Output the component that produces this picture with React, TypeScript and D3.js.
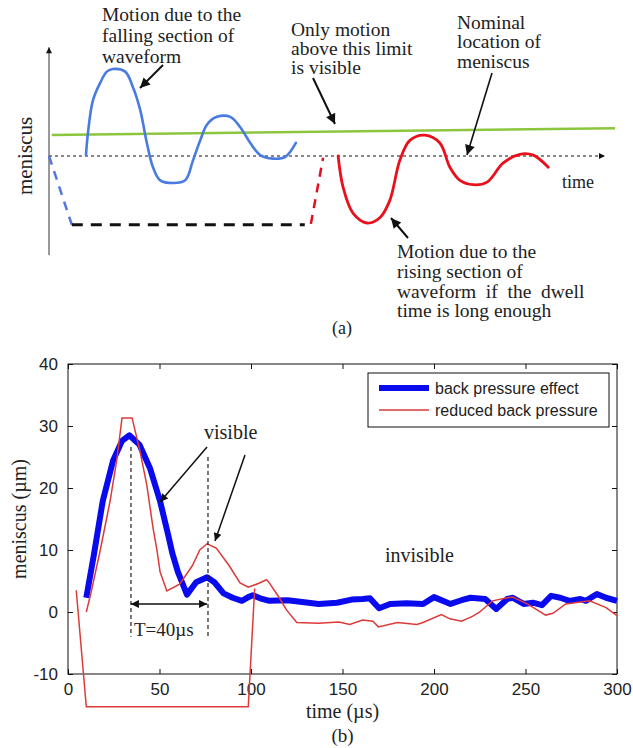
import { useEffect, useRef } from 'react';
import * as d3 from 'd3';

// ---- panel (b): measured meniscus position, time in µs, meniscus in µm ----
const backPressureT = [10, 14, 19, 24.6, 29.5, 33.5, 39, 44.8, 50.3, 54.6, 57, 60, 65, 70, 76, 80, 85, 90, 95, 98.5, 101, 105, 110, 120, 128, 137, 147, 155, 161, 165, 170, 176, 185, 194, 200, 209, 215, 220, 228, 234, 240, 243, 249, 254, 259, 264, 269, 274, 280, 283, 289, 294, 300];
const backPressureV = [2.3, 9, 17.9, 24.4, 27.6, 28.5, 27, 23.2, 17.9, 12.6, 9.5, 6.5, 2.8, 4.8, 5.6, 4.8, 3, 2.3, 1.8, 2.4, 2.7, 2.2, 1.8, 1.9, 1.6, 1.3, 1.5, 2.0, 2.1, 2.2, 0.6, 1.3, 1.4, 1.3, 2.4, 1.3, 1.9, 2.3, 2.1, 0.5, 2.1, 2.3, 1.3, 1.5, 1.1, 2.6, 2.3, 1.8, 2.1, 1.8, 2.9, 2.3, 1.8];

const reducedT = [10, 12.5, 17.5, 23, 26.8, 29.5, 35, 39.3, 43, 46.5, 48.6, 50.3, 54, 61, 68, 72, 76, 81, 88, 94, 98.5, 104, 108.5, 110, 115, 119.5, 125, 137, 148, 154, 161, 166.6, 169.6, 180, 190.6, 194, 204, 208.7, 215, 221, 225, 232, 240, 243, 251, 261, 265, 272, 285, 294, 300];
const reducedV = [0, 3, 9.8, 17.9, 24.8, 31.3, 31.3, 26, 20.6, 13.5, 10, 6.5, 3.4, 4.5, 7.5, 10, 11, 10.3, 7.5, 4.7, 4, 4.6, 5.2, 4.7, 2.5, 0.3, -1.7, -1.8, -1.6, -2, -1.3, -1.5, -2.4, -1.7, -2, -1.7, -0.4, -1.1, -1.5, -0.7, 0, 1.8, 2.3, 2.4, 1.3, -0.5, -0.2, 1.3, 1.8, 0.7, -0.6];

// the drive step drawn with the reduced back pressure trace (runs below the axes)
const stepT = [4.5, 10, 98.5, 102];
const stepV = [3.5, -15.3, -15.3, 3.8];

const xTicks = [0, 50, 100, 150, 200, 250, 300];
const yTicks = [-10, 0, 10, 20, 30, 40];
const legendLabels = ['back pressure effect', 'reduced back pressure'];

// period markers (µs)
const periodStart = 34.4;
const periodEnd = 76;

// ---- panel (a): schematic, arbitrary units ----
const fallingU = [6.65, 7.0, 7.9, 9.2, 10.4, 11.5, 13.7, 15.1, 16.4, 17.6, 18.7, 20.0, 22.3, 24.5, 25.9, 27.2, 28.4, 30.2, 32.6, 34.4, 36.2, 38.0, 40.3, 42.5, 44.4];
const fallingV = [0.01, 0.26, 0.64, 0.84, 0.97, 1.0, 0.97, 0.79, 0.53, 0.15, -0.13, -0.28, -0.31, -0.28, -0.05, 0.18, 0.36, 0.45, 0.45, 0.33, 0.15, 0.01, -0.03, -0.01, 0.15];

const risingU = [52.0, 52.9, 54.7, 57.2, 59.5, 61.3, 63.1, 64.9, 67.6, 70.3, 72.1, 73.9, 76.3, 78.8, 81.7, 84.7, 87.1, 89.8];
const risingV = [0, -0.36, -0.66, -0.77, -0.71, -0.51, -0.05, 0.18, 0.24, 0.15, -0.13, -0.28, -0.33, -0.3, -0.08, 0.02, 0.01, -0.13];

const limitU = [0.5, 101.8];
const limitV = [0.24, 0.32];
const fallDashU = [0, 4.1];
const fallDashV = [0, -0.79];
const dwellU = [4.1, 46];
const dwellV = [-0.79, -0.79];
const riseDashU = [47.1, 49.3];
const riseDashV = [-0.78, -0.02];

const SERIF = '"Liberation Serif", "Times New Roman", serif';
const SANS = '"Liberation Sans", Arial, sans-serif';
const TEXT = '#222';

const zip = (a: number[], b: number[]) => a.map((d, i) => [d, b[i]] as [number, number]);

const App = () => {
  const ref = useRef<SVGSVGElement>(null);

  useEffect(() => {
    const svg = d3.select(ref.current);
    svg.selectAll('*').remove();

    const defs = svg.append('defs');
    const marker = (id: string, w: number, h: number) => {
      defs.append('marker')
        .attr('id', id)
        .attr('markerUnits', 'userSpaceOnUse')
        .attr('viewBox', '0 0 10 10')
        .attr('refX', 10).attr('refY', 5)
        .attr('markerWidth', w).attr('markerHeight', h)
        .attr('orient', 'auto-start-reverse')
        .append('path').attr('d', 'M0,0 L10,5 L0,10 z').attr('fill', '#111');
    };
    marker('headBig', 13, 10);
    marker('headSmall', 11, 8);
    marker('headTiny', 8, 6);

    // ================= panel (a) =================
    const xA = d3.scaleLinear().domain([0, 100]).range([49, 605]);
    const yA = d3.scaleLinear().domain([0, 1]).range([156, 69]);
    const smoothA = d3.line<[number, number]>()
      .x(d => xA(d[0])).y(d => yA(d[1]))
      .curve(d3.curveCatmullRom.alpha(0.5));
    const straightA = d3.line<[number, number]>().x(d => xA(d[0])).y(d => yA(d[1]));

    const a = svg.append('g');

    // axes
    a.append('line')
      .attr('x1', xA(0)).attr('x2', xA(0))
      .attr('y1', yA(-1.14)).attr('y2', yA(1.25))
      .attr('stroke', '#333').attr('stroke-width', 1)
      .attr('marker-end', 'url(#headTiny)');
    a.append('line')
      .attr('x1', xA(0)).attr('x2', xA(100))
      .attr('y1', yA(0)).attr('y2', yA(0))
      .attr('stroke', '#111').attr('stroke-width', 1)
      .attr('stroke-dasharray', '3,3')
      .attr('marker-end', 'url(#headTiny)');

    // visibility limit
    a.append('path').attr('d', straightA(zip(limitU, limitV)))
      .attr('fill', 'none').attr('stroke', '#8cc63f').attr('stroke-width', 2.5);

    // dashed drive waveform
    a.append('path').attr('d', straightA(zip(fallDashU, fallDashV)))
      .attr('fill', 'none').attr('stroke', '#5577dd').attr('stroke-width', 2.5)
      .attr('stroke-dasharray', '9,7');
    a.append('path').attr('d', straightA(zip(dwellU, dwellV)))
      .attr('fill', 'none').attr('stroke', '#111').attr('stroke-width', 3)
      .attr('stroke-dasharray', '11,8');
    a.append('path').attr('d', straightA(zip(riseDashU, riseDashV)))
      .attr('fill', 'none').attr('stroke', '#e01020').attr('stroke-width', 2.5)
      .attr('stroke-dasharray', '9,7');

    // meniscus motion curves
    a.append('path').attr('d', smoothA(zip(fallingU, fallingV)))
      .attr('fill', 'none').attr('stroke', '#4a7be0').attr('stroke-width', 2.6)
      .attr('stroke-linecap', 'round');
    a.append('path').attr('d', smoothA(zip(risingU, risingV)))
      .attr('fill', 'none').attr('stroke', '#e8101c').attr('stroke-width', 2.8)
      .attr('stroke-linecap', 'round');

    const multiline = (g: any, x: number, ys: number[], lines: string[], size: number) => {
      lines.forEach((t, i) => {
        g.append('text').attr('x', x).attr('y', ys[i])
          .attr('font-family', SERIF).attr('font-size', size).attr('fill', TEXT)
          .attr('xml:space', 'preserve')
          .text(t);
      });
    };
    multiline(a, 102, [21, 42, 63], ['Motion due to the', 'falling section of', 'waveform'], 19.5);
    multiline(a, 291, [36, 55, 74], ['Only motion', 'above this limit', 'is visible'], 19.5);
    multiline(a, 457, [29, 48, 68], ['Nominal', 'location of', 'meniscus'], 19.5);
    multiline(a, 397, [258, 278, 298, 317], ['Motion due to the', 'rising section of', 'waveform  if  the  dwell', 'time is long enough'], 19.5);

    a.append('text').attr('x', 562).attr('y', 188)
      .attr('font-family', SERIF).attr('font-size', 18).attr('fill', TEXT).text('time');
    a.append('text')
      .attr('transform', `translate(32,${yA(0)}) rotate(-90)`)
      .attr('text-anchor', 'middle')
      .attr('font-family', SERIF).attr('font-size', 21).attr('fill', TEXT).text('meniscus');
    a.append('text').attr('x', 342).attr('y', 334).attr('text-anchor', 'middle')
      .attr('font-family', SERIF).attr('font-size', 18).attr('fill', TEXT).text('(a)');

    const arrow = (g: any, x1: number, y1: number, x2: number, y2: number, head: string, w: number) => {
      g.append('line').attr('x1', x1).attr('y1', y1).attr('x2', x2).attr('y2', y2)
        .attr('stroke', '#111').attr('stroke-width', w)
        .attr('marker-end', `url(#${head})`);
    };
    arrow(a, 163, 65, 140, 88, 'headBig', 2);
    arrow(a, 313, 78, 335, 124, 'headBig', 2);
    arrow(a, 492, 73, 467, 155, 'headBig', 1.6);
    arrow(a, 408, 238, 391, 218, 'headBig', 2);

    // ================= panel (b) =================
    const xB = d3.scaleLinear().domain([0, 300]).range([68, 617]);
    const yB = d3.scaleLinear().domain([-10, 40]).range([674, 364]);
    const lineB = d3.line<[number, number]>().x(d => xB(d[0])).y(d => yB(d[1]));

    const b = svg.append('g');

    const styleAxis = (g: any) => {
      g.select('.domain').remove();
      g.selectAll('.tick line').attr('stroke', '#111');
      g.selectAll('.tick text')
        .attr('font-family', SANS).attr('font-size', 17).attr('fill', TEXT);
    };
    // plain hyphen for negatives, as in the original figure
    const plain = (d: any) => String(d);
    b.append('g').attr('transform', `translate(0,${yB(-10)})`)
      .call(d3.axisBottom(xB).tickValues(xTicks).tickFormat(plain).tickSizeInner(-5).tickSizeOuter(0).tickPadding(9))
      .call(styleAxis);
    b.append('g').attr('transform', `translate(${xB(0)},0)`)
      .call(d3.axisLeft(yB).tickValues(yTicks).tickFormat(plain).tickSizeInner(-5).tickSizeOuter(0).tickPadding(10))
      .call(styleAxis);
    b.append('g').attr('transform', `translate(0,${yB(40)})`)
      .call(d3.axisTop(xB).tickValues(xTicks).tickSizeInner(-5).tickSizeOuter(0).tickFormat(() => ''))
      .call(styleAxis);
    b.append('g').attr('transform', `translate(${xB(300)},0)`)
      .call(d3.axisRight(yB).tickValues(yTicks).tickSizeInner(-5).tickSizeOuter(0).tickFormat(() => ''))
      .call(styleAxis);

    b.append('rect')
      .attr('x', xB(0)).attr('y', yB(40))
      .attr('width', xB(300) - xB(0)).attr('height', yB(-10) - yB(40))
      .attr('fill', 'none').attr('stroke', '#111').attr('stroke-width', 1);

    // data lines
    b.append('path').attr('d', lineB(zip(backPressureT, backPressureV)))
      .attr('fill', 'none').attr('stroke', '#0a0aef').attr('stroke-width', 6)
      .attr('stroke-linejoin', 'round');
    b.append('path').attr('d', lineB(zip(reducedT, reducedV)))
      .attr('fill', 'none').attr('stroke', '#dd3a3a').attr('stroke-width', 1.5);
    b.append('path').attr('d', lineB(zip(stepT, stepV)))
      .attr('fill', 'none').attr('stroke', '#dd3a3a').attr('stroke-width', 1.5);

    // period markers
    [[periodStart, 26.6], [periodEnd + 0.5, 25]].forEach(([t, top]) => {
      b.append('line')
        .attr('x1', xB(t)).attr('x2', xB(t))
        .attr('y1', yB(top)).attr('y2', yB(-4))
        .attr('stroke', '#222').attr('stroke-width', 1.2)
        .attr('stroke-dasharray', '4,3');
    });
    b.append('line')
      .attr('x1', xB(periodStart)).attr('x2', xB(periodEnd))
      .attr('y1', yB(1.3)).attr('y2', yB(1.3))
      .attr('stroke', '#111').attr('stroke-width', 1.5)
      .attr('marker-start', 'url(#headSmall)')
      .attr('marker-end', 'url(#headSmall)');
    b.append('text').attr('x', xB(36)).attr('y', 636)
      .attr('font-family', SERIF).attr('font-size', 19).attr('fill', TEXT).text('T=40µs');

    // annotations
    b.append('text').attr('x', 204).attr('y', 439)
      .attr('font-family', SERIF).attr('font-size', 20).attr('fill', TEXT).text('visible');
    arrow(b, 207, 447, 160, 502, 'headSmall', 1.5);
    arrow(b, 245, 455, 215, 541, 'headSmall', 1.5);
    b.append('text').attr('x', 385).attr('y', 562)
      .attr('font-family', SERIF).attr('font-size', 20).attr('fill', TEXT).text('invisible');

    // axis titles
    b.append('text')
      .attr('transform', `translate(26,${yB(15)}) rotate(-90)`)
      .attr('text-anchor', 'middle')
      .attr('font-family', SERIF).attr('font-size', 20).attr('fill', TEXT).text('meniscus (µm)');
    b.append('text').attr('x', xB(150)).attr('y', 718).attr('text-anchor', 'middle')
      .attr('font-family', SERIF).attr('font-size', 20).attr('fill', TEXT).text('time (µs)');
    b.append('text').attr('x', xB(150)).attr('y', 742).attr('text-anchor', 'middle')
      .attr('font-family', SERIF).attr('font-size', 19).attr('fill', TEXT).text('(b)');

    // legend
    const legend = b.append('g').attr('transform', 'translate(368,373)');
    legend.append('rect').attr('width', 241).attr('height', 54)
      .attr('fill', 'white').attr('stroke', '#111').attr('stroke-width', 1);
    const legendStyles = [{ c: '#0a0aef', w: 6 }, { c: '#dd3a3a', w: 1.5 }];
    legendLabels.forEach((label, i) => {
      const y = 15 + i * 22;
      legend.append('line').attr('x1', 11).attr('x2', 61).attr('y1', y).attr('y2', y)
        .attr('stroke', legendStyles[i].c).attr('stroke-width', legendStyles[i].w);
      legend.append('text').attr('x', 67).attr('y', y + 6)
        .attr('font-family', SANS).attr('font-size', 16).attr('fill', TEXT).text(label);
    });
  }, []);

  return (
    <div style={{ position: 'absolute', left: 0, top: 0, background: 'white' }}>
      <svg ref={ref} width={633} height={748} style={{ display: 'block', overflow: 'visible' }} />
    </div>
  );
};

export default App;
